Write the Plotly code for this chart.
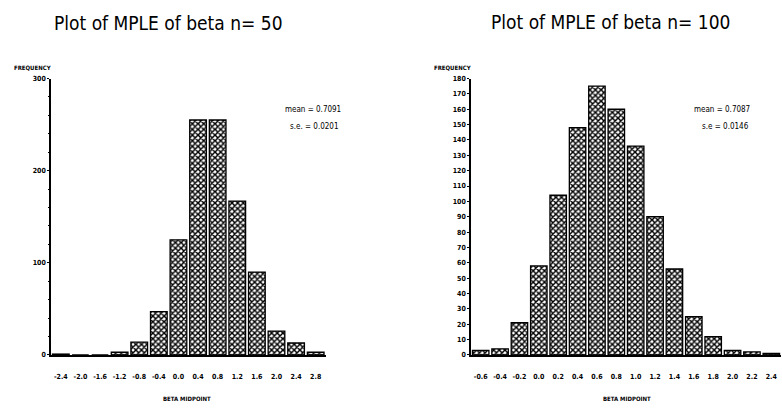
import plotly.graph_objects as go

# ---- data ----
cats_50 = ["-2.4", "-2.0", "-1.6", "-1.2", "-0.8", "-0.4", "0.0", "0.4", "0.8", "1.2", "1.6", "2.0", "2.4", "2.8"]
freq_50 = [1, 0, 0, 3, 14, 47, 125, 255, 255, 167, 90, 26, 13, 3]

cats_100 = ["-0.6", "-0.4", "-0.2", "0.0", "0.2", "0.4", "0.6", "0.8", "1.0", "1.2", "1.4", "1.6", "1.8", "2.0", "2.2", "2.4"]
freq_100 = [3, 4, 21, 58, 104, 148, 175, 160, 136, 90, 56, 25, 12, 3, 2, 1]

yticks_50 = [0, 100, 200, 300]
yticks_100 = list(range(0, 190, 10))

title_50 = "Plot of MPLE of beta n= 50"
title_100 = "Plot of MPLE of beta n= 100"
stats_50 = ["mean = 0.7091", "s.e. = 0.0201"]
stats_100 = ["mean = 0.7087", "s.e = 0.0146"]

W, H = 782, 409
def px(x):
    return min(1.0, x / W)
def py(y):
    return 1 - y / H

bar_style = dict(
    color="white",
    line=dict(color="black", width=1.3),
    pattern=dict(shape="x", size=4, solidity=0.6, fgcolor="black", bgcolor="white", fillmode="replace"),
)

fig = go.Figure()
fig.add_trace(go.Bar(x=list(range(len(cats_50))), y=freq_50, marker=bar_style,
                     xaxis="x", yaxis="y", showlegend=False, hoverinfo="skip"))
fig.add_trace(go.Bar(x=list(range(len(cats_100))), y=freq_100, marker=bar_style,
                     xaxis="x2", yaxis="y2", showlegend=False, hoverinfo="skip"))

tickfont = dict(family="DejaVu Sans Condensed", size=7, color="black", weight="bold")
ydom = [py(358), py(76)]

fig.update_layout(
    width=W, height=H,
    margin=dict(l=0, r=0, t=0, b=0),
    paper_bgcolor="white", plot_bgcolor="white",
    bargap=0.15,
    xaxis=dict(domain=[px(51), px(325.5)], range=[-0.5, len(cats_50) - 0.5],
               tickvals=list(range(len(cats_50))), ticktext=cats_50,
               showgrid=False, zeroline=False, showline=True, linecolor="black", linewidth=1.5,
               ticks="", tickfont=tickfont, ticklabelstandoff=14, anchor="y"),
    yaxis=dict(domain=ydom, range=[0, 300], tickvals=yticks_50,
               showgrid=False, zeroline=False, showline=True, linecolor="black", linewidth=1.5,
               ticks="outside", ticklen=2, tickcolor="black", tickfont=tickfont,
               minor=dict(dtick=20, ticks="outside", ticklen=1.5, tickcolor="black"),
               anchor="x"),
    xaxis2=dict(domain=[px(471), px(781)], range=[-0.5, len(cats_100) - 0.5],
                tickvals=list(range(len(cats_100))), ticktext=cats_100,
                showgrid=False, zeroline=False, showline=True, linecolor="black", linewidth=1.5,
                ticks="", tickfont=tickfont, ticklabelstandoff=14, ticklabeloverflow="allow",
                anchor="y2"),
    yaxis2=dict(domain=ydom, range=[0, 180], tickvals=yticks_100,
                showgrid=False, zeroline=False, showline=True, linecolor="black", linewidth=1.5,
                ticks="outside", ticklen=2, tickcolor="black", tickfont=tickfont,
                anchor="x2"),
)

titlefont = dict(family="DejaVu Sans Condensed", size=19, color="black")
smallfont = dict(family="DejaVu Sans Condensed", size=8, color="black")
labfont = dict(family="DejaVu Sans Condensed", size=6, color="black", weight="bold")

ann = [
    dict(x=px(168), y=py(19), text=title_50, font=titlefont, xanchor="center"),
    dict(x=px(610), y=py(18), text=title_100, font=titlefont, xanchor="center"),
    dict(x=px(12), y=py(65), text="FREQUENCY", font=labfont, xanchor="left"),
    dict(x=px(432), y=py(65), text="FREQUENCY", font=labfont, xanchor="left"),
    dict(x=px(161), y=py(402), text="BETA MIDPOINT", font=labfont, xanchor="left"),
    dict(x=px(601), y=py(402), text="BETA MIDPOINT", font=labfont, xanchor="left"),
    dict(x=px(343), y=py(108), text=stats_50[0], font=smallfont, xanchor="right"),
    dict(x=px(341), y=py(125), text=stats_50[1], font=smallfont, xanchor="right"),
    dict(x=px(752), y=py(108), text=stats_100[0], font=smallfont, xanchor="right"),
    dict(x=px(751), y=py(125), text=stats_100[1], font=smallfont, xanchor="right"),
]
for a in ann:
    fig.add_annotation(xref="paper", yref="paper", showarrow=False,
                       yanchor="middle", **a)

fig.write_html("out.html", config={"displayModeBar": False},
               post_script="document.body.style.margin='0';")
